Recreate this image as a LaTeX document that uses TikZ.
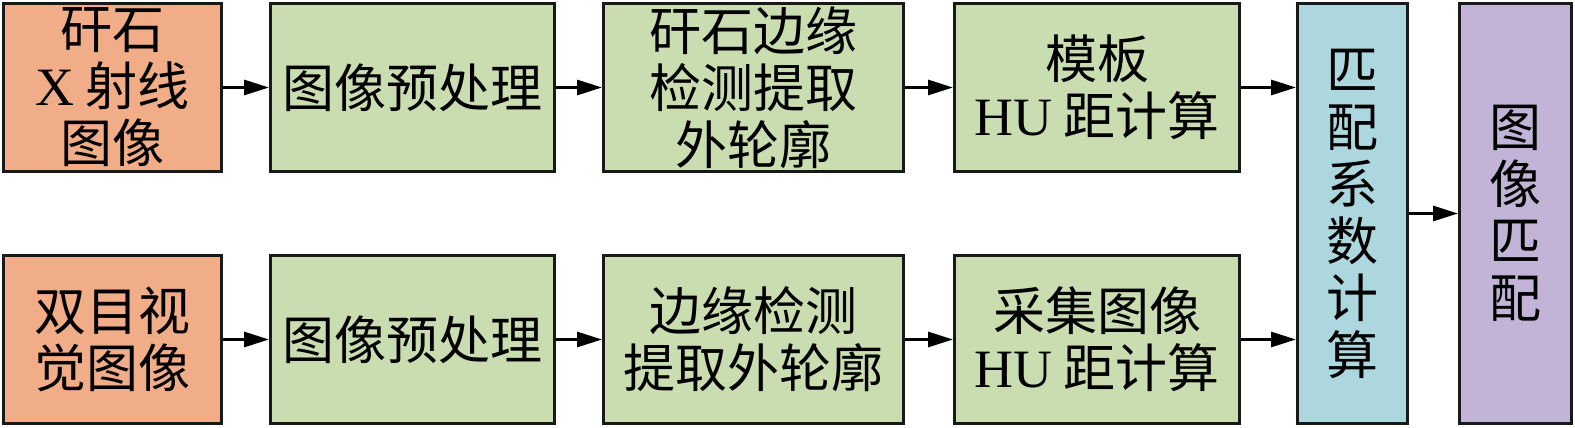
\documentclass[tikz,border=0pt]{standalone}
\usepackage{fontspec}
\setmainfont{Liberation Serif}
\newfontfamily\cjk{Noto Sans CJK SC}
\usetikzlibrary{arrows.meta}
\definecolor{orangebox}{HTML}{F0AD87}
\definecolor{greenbox}{HTML}{C9DDB0}
\definecolor{bluebox}{HTML}{ADD7DE}
\definecolor{purplebox}{HTML}{C2B4D6}
\newcommand{\lat}[1]{{\rmfamily\fontsize{27}{28.5}\selectfont #1}}
\begin{document}
\begin{tikzpicture}[x=0.5pt,y=0.5pt,
	box/.style={draw=black!90,line width=1.5pt,inner sep=0pt,align=center,
		minimum height=84pt,font=\cjk\fontsize{26}{28.5}\selectfont},
	srcbox/.style={box,fill=orangebox,minimum width=109pt},
	prebox/.style={box,fill=greenbox,minimum width=142pt},
	edgebox/.style={box,fill=greenbox,minimum width=150pt},
	hubox/.style={box,fill=greenbox,minimum width=142.5pt},
	coefbox/.style={box,fill=bluebox,minimum width=55pt,minimum height=210pt},
	matchbox/.style={box,fill=purplebox,minimum width=56pt,minimum height=210pt},
	link/.style={line width=1.5pt,-{Triangle[length=12.5pt,width=7.5pt]}}]
	\useasboundingbox (0,0) rectangle (1575,428);
	\node[srcbox] (xray) at (112.5,340.5) {矸石\\\lat{X} 射线\\图像};
	\node[srcbox] (stereo) at (112.5,88.5) {双目视\\觉图像};
	\node[prebox] (pre1) at (412.5,340.5) {图像预处理};
	\node[prebox] (pre2) at (412.5,88.5) {图像预处理};
	\node[edgebox] (edge1) at (753.5,340.5) {矸石边缘\\检测提取\\外轮廓};
	\node[edgebox] (edge2) at (753.5,88.5) {边缘检测\\提取外轮廓};
	\node[hubox] (hu1) at (1097,340.5) {模板\\\lat{HU} 距计算};
	\node[hubox] (hu2) at (1097,88.5) {采集图像\\\lat{HU} 距计算};
	\node[coefbox] (coef) at (1352.5,214.5) {匹\\配\\系\\数\\计\\算};
	\node[matchbox] (match) at (1515.5,214.5) {图\\像\\匹\\配};
	\draw[link] (xray) -- (pre1);
	\draw[link] (pre1) -- (edge1);
	\draw[link] (edge1) -- (hu1);
	\draw[link] (hu1.east) -- (hu1.east -| coef.west);
	\draw[link] (stereo) -- (pre2);
	\draw[link] (pre2) -- (edge2);
	\draw[link] (edge2) -- (hu2);
	\draw[link] (hu2.east) -- (hu2.east -| coef.west);
	\draw[link] (coef) -- (match);
\end{tikzpicture}
\end{document}
